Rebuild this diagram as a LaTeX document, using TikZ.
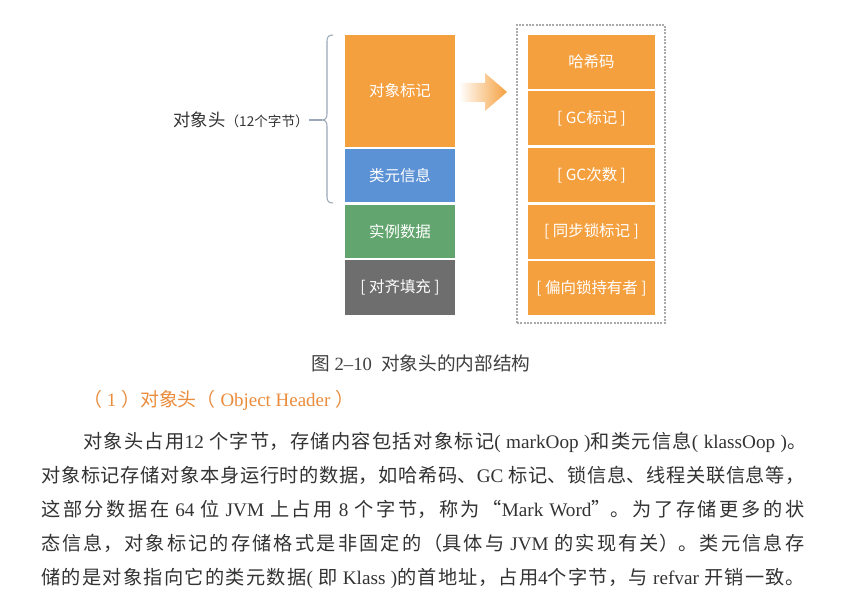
\documentclass[tikz,border=0pt]{standalone}
\usepackage{fontspec}
\setmainfont{Liberation Serif}
\newfontfamily\cjk{Noto Sans CJK SC}
\newfontfamily\latfont{Liberation Serif}
\XeTeXlinebreaklocale "zh"
\XeTeXlinebreakskip=0pt plus 3pt
\definecolor{markor}{HTML}{F5A03F}
\definecolor{klassbl}{HTML}{5B91D5}
\definecolor{datagr}{HTML}{62A56E}
\definecolor{padgr}{HTML}{6E6E6E}
\definecolor{bracec}{HTML}{9AA8B8}
\definecolor{dashc}{HTML}{AAAAAA}
\definecolor{headc}{HTML}{EB8C3C}
\definecolor{bodyc}{HTML}{333333}
\newcommand\enw[1]{{\latfont #1}}
% one fully justified line of body text, set to the given width
\newcommand\fullline[2]{\parbox[b]{#1}{\parindent=0pt\leftskip=0pt\rightskip=0pt
  \parfillskip=0pt\XeTeXlinebreakskip=0pt plus 4pt\relax #2\par}}

\begin{document}
\begin{tikzpicture}[x=0.75pt,y=-0.75pt,
  cell/.style={inner sep=0pt, text=white, font=\cjk\fontsize{11.6pt}{14pt}\selectfont},
  leftcell/.style={cell, minimum width=82.5pt},
  rightcell/.style={cell, fill=markor, minimum width=95.25pt, minimum height=40.5pt},
  bracepen/.style={draw=bracec, line width=0.8pt},
  bodyline/.style={inner sep=0pt, anchor=base west, text=bodyc,
    font=\cjk\fontsize{14.4pt}{17pt}\selectfont},
]
\fill[white] (0,0) rectangle (849,599);
\useasboundingbox (0,0) rectangle (849,599);

% object layout column
\node[leftcell, fill=markor, minimum height=84pt] (mark) at (400,91) {对象标记};
\node[leftcell, fill=klassbl, minimum height=39.4pt] (klass) at (400,175.75) {类元信息};
\node[leftcell, fill=datagr, minimum height=40.1pt] (data) at (400,231.25) {实例数据};
\node[leftcell, fill=padgr, minimum height=40.9pt] (pad) at (400,287.75) {[ 对齐填充 ]};

% brace grouping the header fields
\coordinate (tip) at (322,120);
\draw[bracepen] (333,35) .. controls (328.5,35) and (327,37) .. (327,41.5) -- (327,113.5)
  .. controls (327,118) and (325.5,120) .. (tip)
  .. controls (325.5,120) and (327,122) .. (327,126.5) -- (327,196.5)
  .. controls (327,201) and (328.5,203) .. (333,203);
\node[anchor=east, inner sep=0pt, text=black!80, font=\cjk\fontsize{13pt}{15pt}\selectfont]
  (head) at (309,120) {对象头{\fontsize{10.2pt}{12pt}\selectfont（12个字节）}};
\draw[bracepen] (head.east) -- (tip);

% expansion arrow
\shade[left color=white, right color=markor] (459,83) -- (485,83) -- (485,73) -- (507,92)
  -- (485,111) -- (485,102) -- (459,102) -- cycle;

% mark word contents
\node[draw=dashc, dash pattern=on 1.5pt off 1pt, line width=0.8pt, minimum width=111pt,
  minimum height=223.5pt, inner sep=0pt] (detail) at (591,174) {};
\node[rightcell] (hash) at (591.5,62) {哈希码};
\node[rightcell] (gcmark) at (591.5,118.5) {[ GC标记 ]};
\node[rightcell] (gccount) at (591.5,175) {[ GC次数 ]};
\node[rightcell] (lockmark) at (591.5,231.5) {[ 同步锁标记 ]};
\node[rightcell] (biased) at (591.5,288) {[ 偏向锁持有者 ]};

% caption and section heading
\node[anchor=west, inner sep=0pt, text=black!75, font=\cjk\fontsize{14pt}{16pt}\selectfont]
  (caption) at (311,363) {图\enw{ 2–10}\enspace 对象头的内部结构};
\node[anchor=west, inner sep=0pt, text=headc, font=\cjk\fontsize{14.2pt}{16pt}\selectfont]
  (title) at (83,400) {（\enw{ 1 }）对象头（\enw{ Object Header }）};

% body paragraph, one justified line per node
\node[bodyline] (l1) at (83,448)
  {\fullline{542.25pt}{对象头占用\enw{12 }个字节，存储内容包括对象标记\enw{( markOop )}和类元信息\enw{( klassOop )}。}};
\node[bodyline] (l2) at (41,482)
  {\fullline{572.25pt}{对象标记存储对象本身运行时的数据，如哈希码、\enw{GC }标记、锁信息、线程关联信息等，}};
\node[bodyline] (l3) at (41,516)
  {\fullline{572.25pt}{这部分数据在\enw{ 64 }位\enw{ JVM }上占用\enw{ 8 }个字节，称为“\enw{Mark Word}”。为了存储更多的状}};
\node[bodyline] (l4) at (41,550)
  {\fullline{572.25pt}{态信息，对象标记的存储格式是非固定的（具体与\enw{ JVM }的实现有关）。类元信息存}};
\node[bodyline] (l5) at (41,584)
  {\fullline{572.25pt}{储的是对象指向它的类元数据\enw{( }即\enw{ Klass )}的首地址，占用\enw{4}个字节，与\enw{ refvar }开销一致。}};
\end{tikzpicture}
\end{document}
